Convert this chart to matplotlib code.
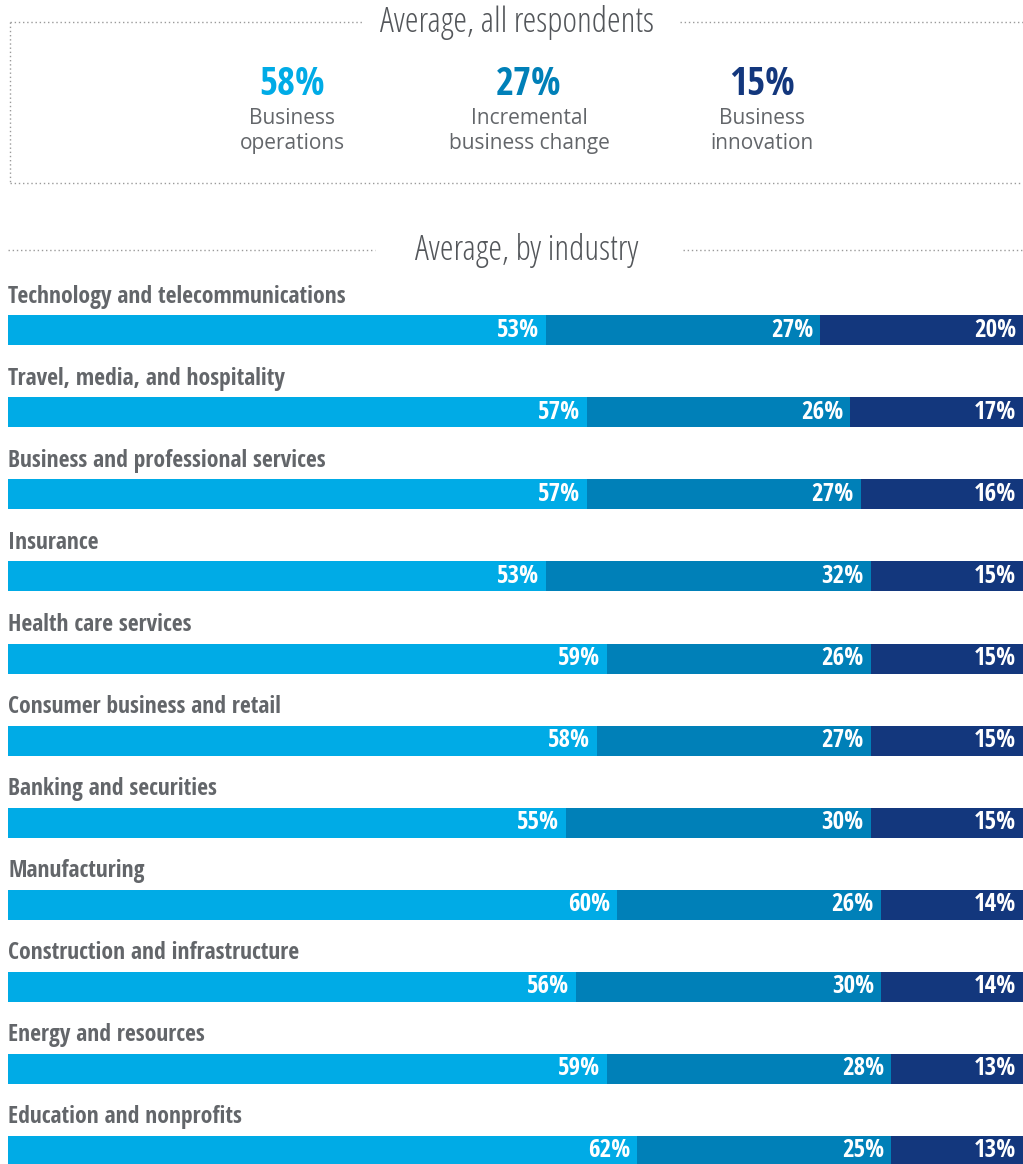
import matplotlib
matplotlib.use("Agg")
import matplotlib.pyplot as plt
from matplotlib.font_manager import fontManager, FontProperties

industries = [
    "Technology and telecommunications",
    "Travel, media, and hospitality",
    "Business and professional services",
    "Insurance",
    "Health care services",
    "Consumer business and retail",
    "Banking and securities",
    "Manufacturing",
    "Construction and infrastructure",
    "Energy and resources",
    "Education and nonprofits",
]
operations = [53, 57, 57, 53, 59, 58, 55, 60, 56, 59, 62]
incremental = [27, 26, 27, 32, 26, 27, 30, 26, 30, 28, 25]
innovation = [20, 17, 16, 15, 15, 15, 15, 14, 14, 13, 13]

overall_values = [58, 27, 15]
overall_labels = ["Business\noperations", "Incremental\nbusiness change", "Business\ninnovation"]

C1, C2, C3 = "#00ABE6", "#0080B8", "#13377D"
GREY = "#63666A"

names = {f.name for f in fontManager.ttflist}
prefs = ["Open Sans Condensed", "Roboto Condensed", "PT Sans Narrow",
         "Liberation Sans Narrow", "Open Sans"]
narrow = next(p for p in prefs if p in names or p == "Open Sans")
plt.rcParams["font.family"] = [narrow, "DejaVu Sans"]


def pick_light():
    cands = []
    for f in fontManager.ttflist:
        n = f.name
        w = f.weight if isinstance(f.weight, int) else 400
        cond = ("Condensed" in n or "Narrow" in n or f.stretch in ("condensed", "semi-condensed"))
        if cond and "Open Sans" in n and w <= 300 and f.style == "normal":
            cands.append((0, f.fname))
        elif cond and "Light" in n and f.style == "normal" and ("Roboto" in n or "Open" in n):
            cands.append((1, f.fname))
    if cands:
        cands.sort()
        return lambda size: FontProperties(fname=cands[0][1], size=size)
    return lambda size: FontProperties(family=[narrow, "DejaVu Sans"], weight="light", size=size)


LIGHT = pick_light()

W, H = 1023, 1164
fig = plt.figure(figsize=(W / 100, H / 100), dpi=100)

ov = fig.add_axes([0, 0, 1, 1])
ov.set_xlim(0, W)
ov.set_ylim(H, 0)
ov.axis("off")

dot = dict(color="#9A9A9A", lw=1.0, linestyle=(0, (1, 2)))
ov.plot([10, 362], [22, 22], **dot)
ov.plot([680, 1023], [22, 22], **dot)
ov.plot([10, 10], [22, 183], **dot)
ov.plot([10, 1023], [183, 183], **dot)
ov.text(517, 23, "Average, all respondents", ha="center", va="center",
        fontproperties=LIGHT(25), color="#53565A")

centers = [292, 529, 762]
for cx, v, lab, c in zip(centers, overall_values, overall_labels, [C1, C2, C3]):
    ov.text(cx, 85, f"{v}%", ha="center", va="center", fontsize=28,
            fontweight="bold", color=c)
    ov.text(cx, 131, lab, ha="center", va="center", fontsize=15,
            family=["Open Sans", "DejaVu Sans"], color=GREY, linespacing=1.2)

ov.plot([8, 375], [250, 250], **dot)
ov.plot([683, 1023], [250, 250], **dot)
ov.text(527, 251, "Average, by industry", ha="center", va="center",
        fontproperties=LIGHT(25), color="#53565A")

row = 82.0
top_px = 330.5 - row / 2
bottom_px = H
ax = fig.add_axes([8 / W, 0, (W - 8) / W, (bottom_px - top_px) / H])
ax.set_xlim(0, 100)
ax.set_ylim(-0.5 + (bottom_px - top_px) / row, -0.5)
ax.axis("off")

ys = list(range(len(industries)))
bh = 30 / row
left2 = [a for a in operations]
left3 = [a + b for a, b in zip(operations, incremental)]
ax.barh(ys, operations, height=bh, color=C1, left=0)
ax.barh(ys, incremental, height=bh, color=C2, left=left2)
ax.barh(ys, innovation, height=bh, color=C3, left=left3)

for y, name, a, b, c in zip(ys, industries, operations, incremental, innovation):
    ax.text(0, y - 0.41, name, ha="left", va="center", fontsize=17,
            fontweight="bold", color=GREY)
    for end, v in [(a, a), (a + b, b), (a + b + c, c)]:
        ax.annotate(f"{v}%", (end, y), xytext=(-5, 0), textcoords="offset points",
                    ha="right", va="center", fontsize=18, fontweight="bold",
                    color="white")

fig.savefig("out.png", dpi=100)
